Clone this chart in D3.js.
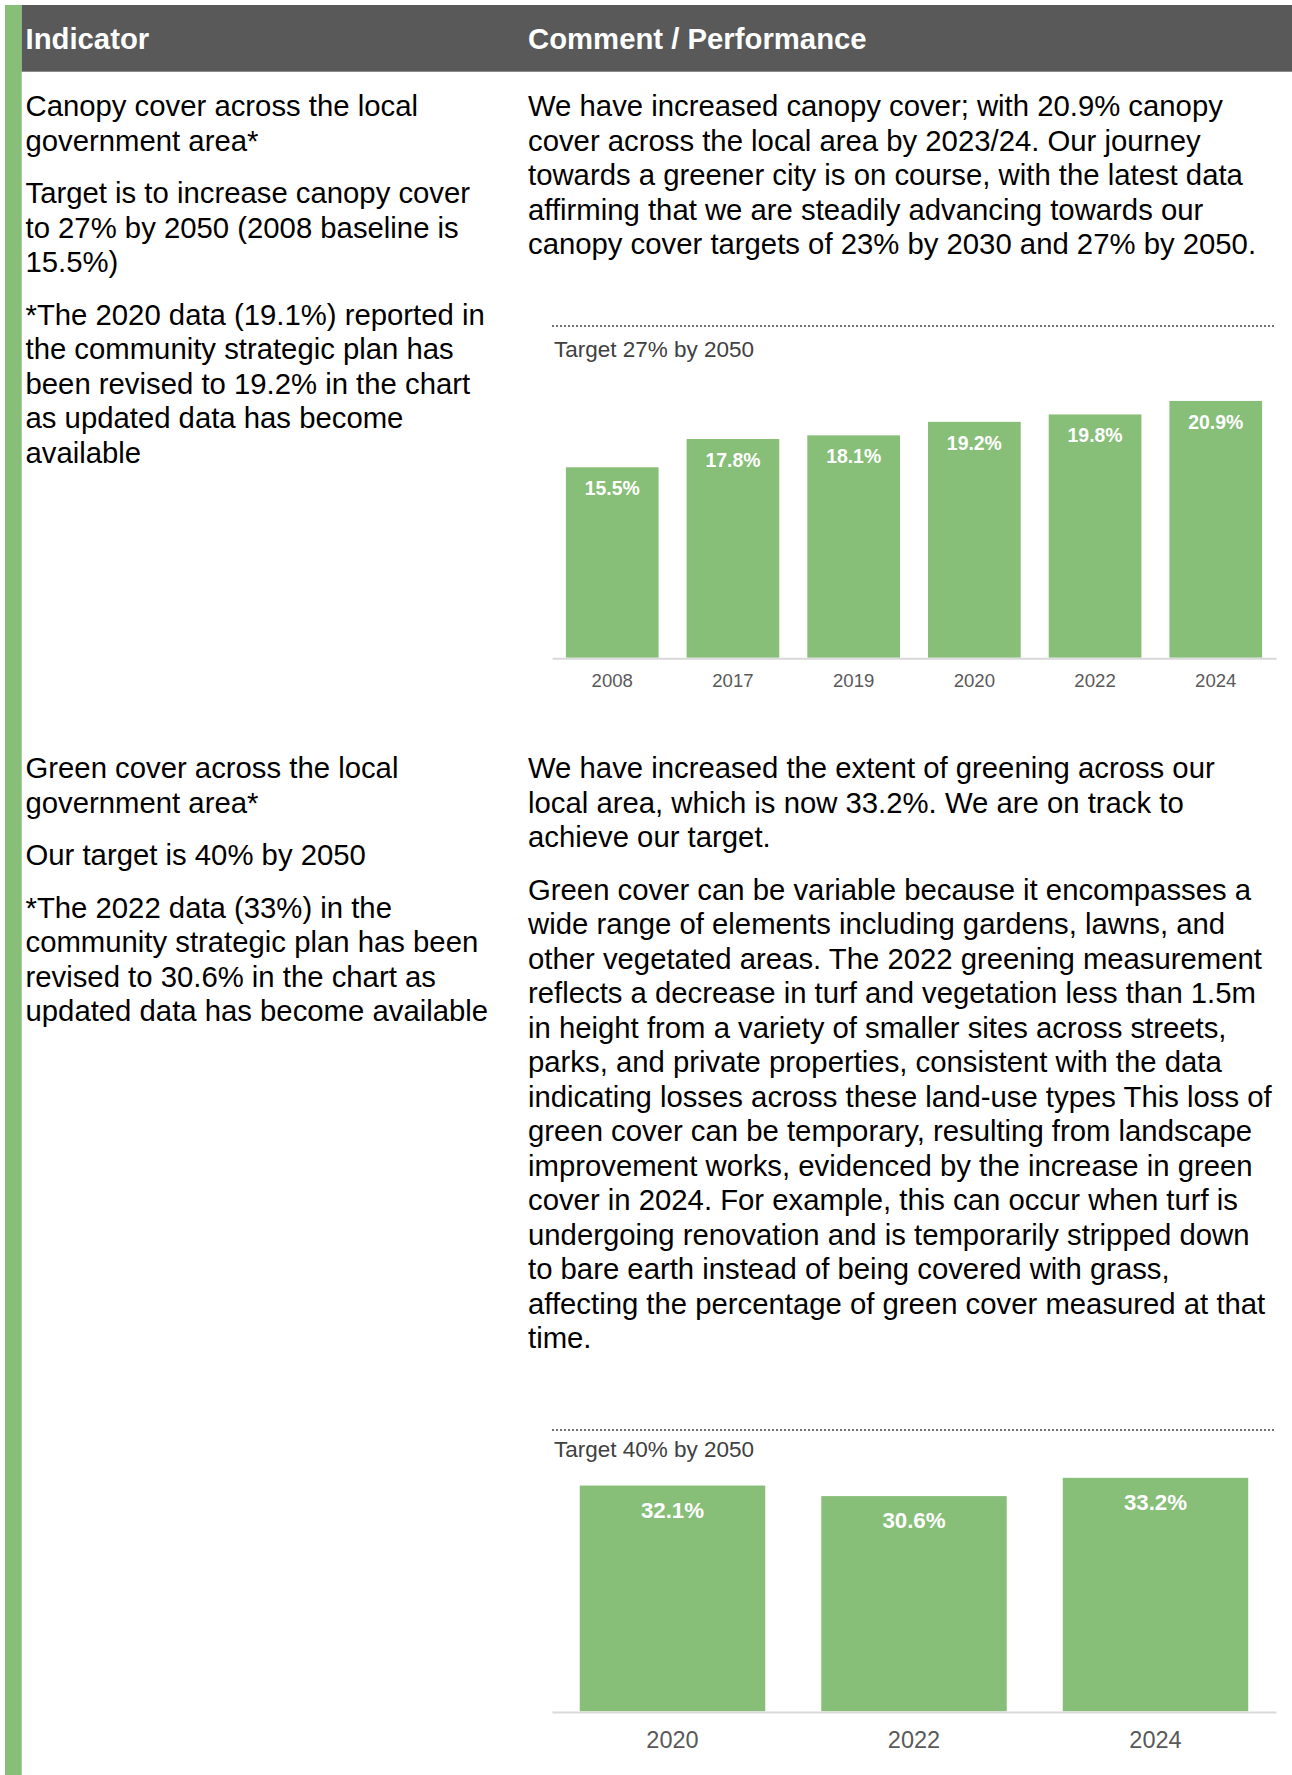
<!DOCTYPE html>
<html>
<head>
<meta charset="utf-8">
<script src="https://cdn.jsdelivr.net/npm/d3@7"></script>
<style>
  body { margin: 0; background: #fff; }
  svg { display: block; font-family: "Liberation Sans", Arial, sans-serif; }
</style>
</head>
<body>
<div id="page"><svg></svg></div>
<script>
// chart values
var canopyYears  = ["2008", "2017", "2019", "2020", "2022", "2024"];
var canopyValues = [15.5, 17.8, 18.1, 19.2, 19.8, 20.9];
var canopyTarget = 27;
var canopyTargetLabel = "Target 27% by 2050";

var greenYears  = ["2020", "2022", "2024"];
var greenValues = [32.1, 30.6, 33.2];
var greenTarget = 40;
var greenTargetLabel = "Target 40% by 2050";

// table text, one array per paragraph line list
var headers = ["Indicator", "Comment / Performance"];

var canopyIndicator = [
  ["Canopy cover across the local", "government area*"],
  ["Target is to increase canopy cover", "to 27% by 2050 (2008 baseline is", "15.5%)"],
  ["*The 2020 data (19.1%) reported in", "the community strategic plan has", "been revised to 19.2% in the chart", "as updated data has become", "available"]
];
var canopyComment = [
  ["We have increased canopy cover; with 20.9% canopy",
   "cover across the local area by 2023/24. Our journey",
   "towards a greener city is on course, with the latest data",
   "affirming that we are steadily advancing towards our",
   "canopy cover targets of 23% by 2030 and 27% by 2050."]
];
var greenIndicator = [
  ["Green cover across the local", "government area*"],
  ["Our target is 40% by 2050"],
  ["*The 2022 data (33%) in the", "community strategic plan has been", "revised to 30.6% in the chart as", "updated data has become available"]
];
var greenComment = [
  ["We have increased the extent of greening across our",
   "local area, which is now 33.2%. We are on track to",
   "achieve our target."],
  ["Green cover can be variable because it encompasses a",
   "wide range of elements including gardens, lawns, and",
   "other vegetated areas. The 2022 greening measurement",
   "reflects a decrease in turf and vegetation less than 1.5m",
   "in height from a variety of smaller sites across streets,",
   "parks, and private properties, consistent with the data",
   "indicating losses across these land-use types This loss of",
   "green cover can be temporary, resulting from landscape",
   "improvement works, evidenced by the increase in green",
   "cover in 2024. For example, this can occur when turf is",
   "undergoing renovation and is temporarily stripped down",
   "to bare earth instead of being covered with grass,",
   "affecting the percentage of green cover measured at that",
   "time."]
];

var outerWidth = 1292;
var outerHeight = 1775;
var barColor = "#87be78";
var fontSize = 29.3;
var lineHeight = 34.5;
var paraGap = 52.5;

var svg = d3.select("#page").select("svg")
  .attr("width", outerWidth)
  .attr("height", outerHeight);

// green stripe + header band
svg.append("rect")
  .attr("x", 5).attr("y", 5)
  .attr("width", 16.7).attr("height", outerHeight - 5)
  .attr("fill", barColor);
svg.append("rect")
  .attr("x", 21.7).attr("y", 5)
  .attr("width", outerWidth - 21.7).attr("height", 66.7)
  .attr("fill", "#595959");

svg.selectAll(".hdr").data(headers).enter().append("text")
  .attr("class", "hdr")
  .attr("x", function (d, i){ return i == 0 ? 25.5 : 528; })
  .attr("y", 49.3)
  .attr("fill", "#fff")
  .attr("font-weight", "bold")
  .attr("font-size", fontSize)
  .text(function (d){ return d; });

function drawParagraphs(x, y0, paras){
  var g = svg.append("g").attr("class", "para");
  var y = y0;
  paras.forEach(function (lines, p){
    if (p > 0) y += paraGap - lineHeight;
    lines.forEach(function (line){
      g.append("text")
        .attr("x", x)
        .attr("y", y)
        .attr("fill", "#000")
        .attr("font-size", fontSize)
        .text(line);
      y += lineHeight;
    });
  });
}

drawParagraphs(25.5, 116.2, canopyIndicator);
drawParagraphs(528, 116.2, canopyComment);
drawParagraphs(25.5, 778, greenIndicator);
drawParagraphs(528, 778, greenComment);

function drawChart(years, values, target, targetLabel, box){
  var data = years.map(function (y, i){ return { year: y, value: values[i] }; });
  var g = svg.append("g").attr("class", "chart");

  var xScale = d3.scaleBand()
    .domain(years)
    .range([box.left, box.right])
    .paddingInner(0.232)
    .paddingOuter(0.115);
  var yScale = d3.scaleLinear()
    .domain([0, target])
    .range([box.bottom, box.top]);

  // target line (dotted) and its label
  g.append("line")
    .attr("x1", box.left).attr("x2", box.right)
    .attr("y1", yScale(target)).attr("y2", yScale(target))
    .attr("stroke", "#737373")
    .attr("stroke-width", 2)
    .attr("stroke-dasharray", "2,2");
  g.append("text")
    .attr("x", box.left + 2)
    .attr("y", yScale(target) + box.labelDy)
    .attr("fill", "#404040")
    .attr("font-size", 22.5)
    .text(targetLabel);

  g.selectAll(".bar").data(data).enter().append("rect")
    .attr("class", "bar")
    .attr("x",      function (d){ return xScale(d.year); })
    .attr("width",  xScale.bandwidth())
    .attr("y",      function (d){ return yScale(d.value); })
    .attr("height", function (d){ return box.bottom - yScale(d.value); })
    .attr("fill", barColor);

  g.selectAll(".val").data(data).enter().append("text")
    .attr("class", "val")
    .attr("x", function (d){ return xScale(d.year) + xScale.bandwidth() / 2; })
    .attr("y", function (d){ return yScale(d.value) + box.valueDy; })
    .attr("text-anchor", "middle")
    .attr("fill", "#fff")
    .attr("font-weight", "bold")
    .attr("font-size", box.valueFont)
    .text(function (d){ return d3.format(".1f")(d.value) + "%"; });

  var xAxisG = g.append("g")
    .attr("class", "xaxis")
    .attr("transform", "translate(0," + (box.bottom + 0.6) + ")")
    .call(d3.axisBottom(xScale).tickSize(0));
  xAxisG.attr("font-family", null).attr("font-size", null);
  xAxisG.select(".domain")
    .attr("stroke", "#d9d9d9")
    .attr("stroke-width", 2);
  xAxisG.selectAll("text")
    .attr("dy", null)
    .attr("y", box.tickDy)
    .attr("fill", "#595959")
    .style("font-size", box.tickFont + "px");
}

drawChart(canopyYears, canopyValues, canopyTarget, canopyTargetLabel,
  { left: 552, right: 1276, top: 326, bottom: 657.7, labelDy: 30.7,
    valueFont: 19.4, valueDy: 28, tickFont: 18.6, tickDy: 28.5 });

drawChart(greenYears, greenValues, greenTarget, greenTargetLabel,
  { left: 552, right: 1276, top: 1430, bottom: 1711.3, labelDy: 26.7,
    valueFont: 22.3, valueDy: 32, tickFont: 23.5, tickDy: 36.5 });
</script>
</body>
</html>
